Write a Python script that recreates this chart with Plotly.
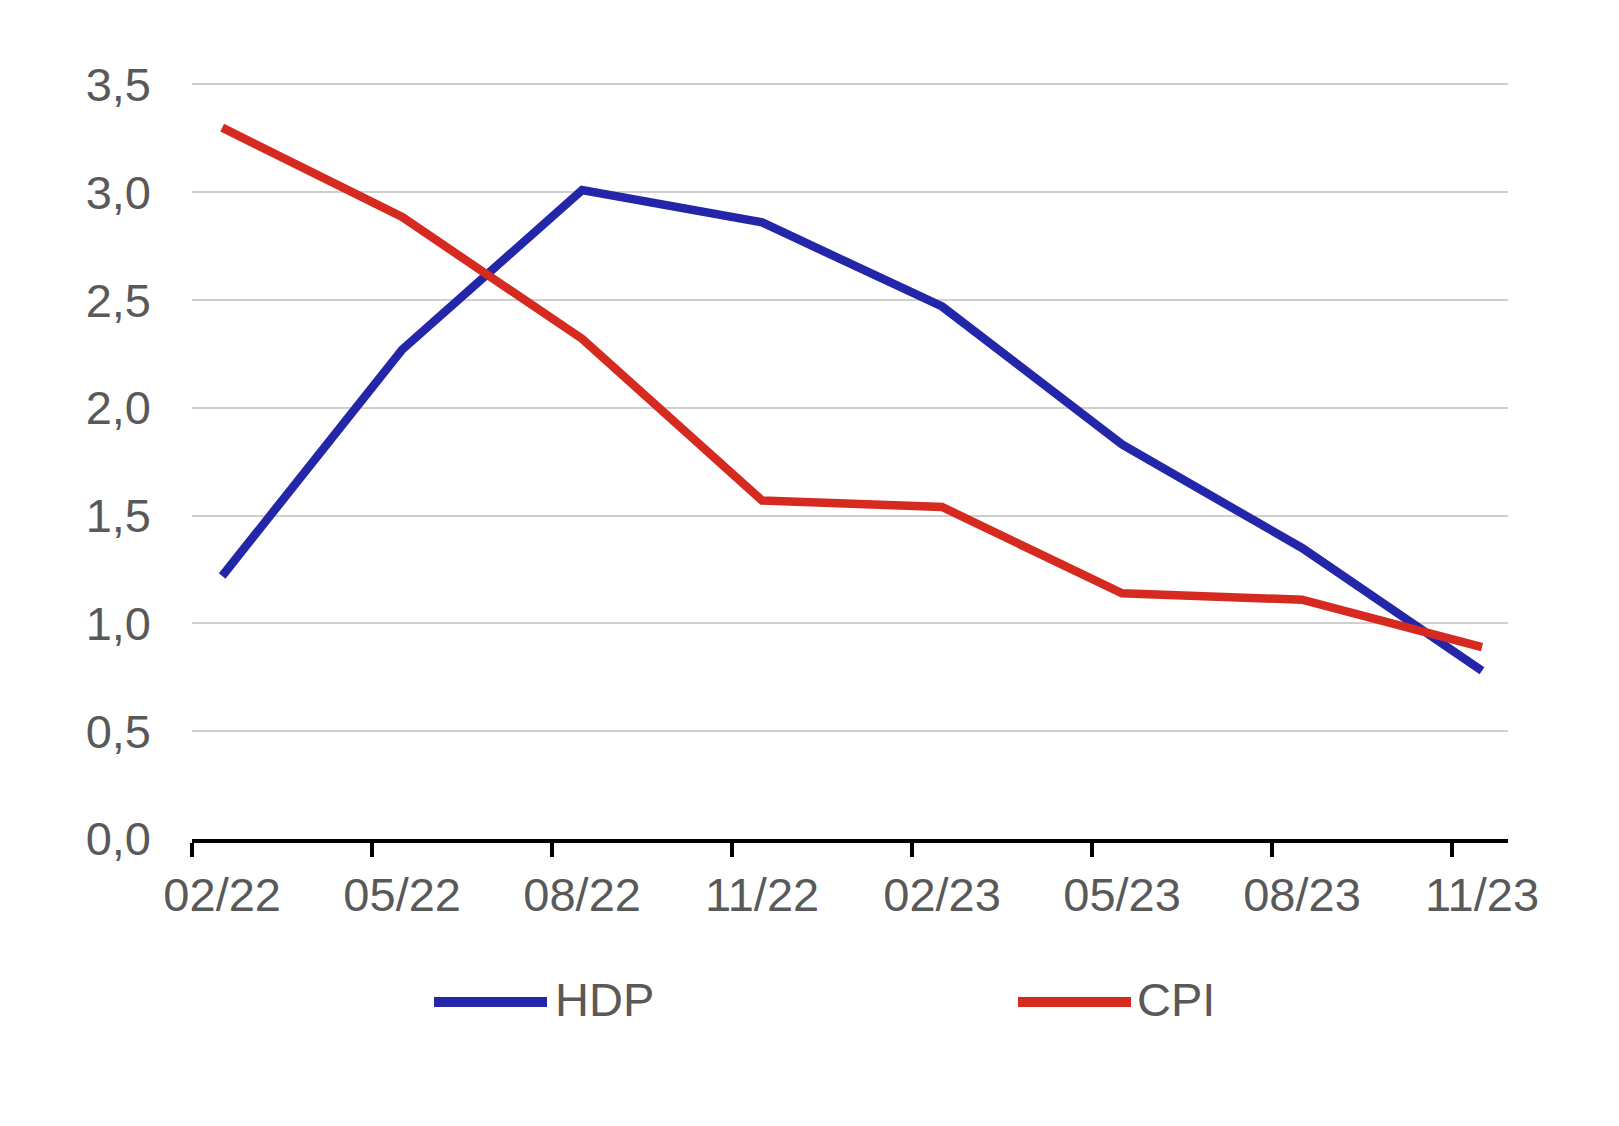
import plotly.graph_objects as go

# ---- data ----
periods = ["02/22", "05/22", "08/22", "11/22", "02/23", "05/23", "08/23", "11/23"]
hdp = [1.22, 2.27, 3.01, 2.86, 2.47, 1.83, 1.35, 0.78]
cpi = [3.30, 2.885, 2.32, 1.57, 1.54, 1.14, 1.11, 0.89]
series_names = ["HDP", "CPI"]
series_colors = ["#2326a9", "#d62a20"]
y_ticks = [0.0, 0.5, 1.0, 1.5, 2.0, 2.5, 3.0, 3.5]
y_tick_text = [f"{v:.1f}".replace(".", ",") for v in y_ticks]

W, H = 1619, 1126
PAGE_OFF = 8  # default body margin of the html page
L, R, T, B = 192 - PAGE_OFF, 111 + PAGE_OFF, 78 - PAGE_OFF, 287 + PAGE_OFF
plot_w = W - L - R
plot_h = H - T - B

x_idx = list(range(len(periods)))
offset = 1 / 6  # tick marks sit before the data points

fig = go.Figure()
for name, vals, col in zip(series_names, [hdp, cpi], series_colors):
    fig.add_trace(go.Scatter(
        x=x_idx, y=vals, name=name, mode="lines",
        line=dict(color=col, width=8.5),
        showlegend=False,
    ))

font_family = "Liberation Sans, Arial, sans-serif"
txt_col = "#595959"

fig.update_layout(
    width=W, height=H,
    margin=dict(l=L, r=R, t=T, b=B),
    paper_bgcolor="white", plot_bgcolor="white",
    font=dict(family=font_family, size=47, color=txt_col),
    xaxis=dict(
        range=[-offset - 0.001, len(periods) - 1 + 26 / 180],
        tickmode="array",
        tickvals=[i - offset for i in x_idx],
        ticktext=periods,
        ticklabelshift=30,
        ticks="outside", ticklen=14, tickwidth=4, tickcolor="black",
        showline=True, linecolor="black", linewidth=4,
        showgrid=False, zeroline=False,
        ticklabelstandoff=-2,
        tickfont=dict(size=47, color=txt_col),
    ),
    yaxis=dict(
        range=[0, 3.53],
        tickmode="array",
        tickvals=y_ticks,
        ticktext=y_tick_text,
        showgrid=True, gridcolor="#cfcfcf", gridwidth=1.5,
        zeroline=False, showline=False, ticks="",
        ticklabelstandoff=40,
        tickfont=dict(size=47, color=txt_col),
    ),
)

# custom legend (long line symbols as in the reference)
def px_to_paper_x(px):
    return (px - PAGE_OFF - L) / plot_w

def px_to_paper_y(py):
    return (H - B - (py - PAGE_OFF)) / plot_h

legend_items = [(434, 547, 553), (1018, 1131, 1135)]
leg_y = 1002
for (x0, x1, tx), name, col in zip(legend_items, series_names, series_colors):
    fig.add_shape(type="line", xref="paper", yref="paper",
                  x0=px_to_paper_x(x0), x1=px_to_paper_x(x1),
                  y0=px_to_paper_y(leg_y), y1=px_to_paper_y(leg_y),
                  line=dict(color=col, width=10))
    fig.add_annotation(xref="paper", yref="paper",
                       x=px_to_paper_x(tx), y=px_to_paper_y(leg_y - 2),
                       text=name, showarrow=False,
                       xanchor="left", yanchor="middle",
                       font=dict(size=47, color=txt_col, family=font_family))

fig.write_html("out.html")
